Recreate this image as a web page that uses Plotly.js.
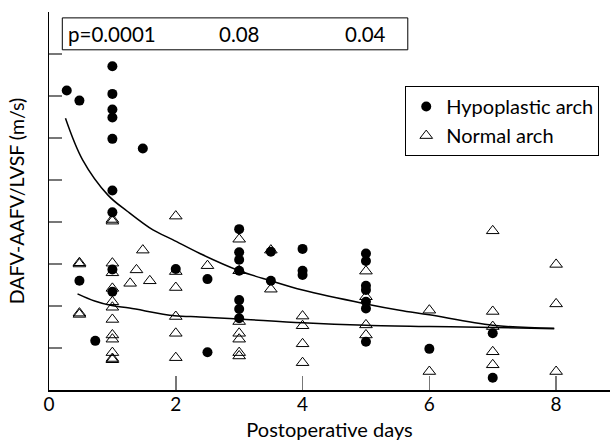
<!DOCTYPE html>
<html>
<head>
<meta charset="utf-8">
<script src="https://cdn.plot.ly/plotly-3.0.1.min.js"></script>
<style>html,body{margin:0;padding:0;background:#fff;}#chart{width:610px;height:443px;}</style>
</head>
<body>
<div id="chart"></div>
<script>
// Hypoplastic arch (filled circles)
const hypoX = [0.28, 0.48, 0.48, 0.73,
  1, 1, 1, 1, 1, 1, 1, 1, 1,
  1.48, 2, 2.5, 2.5,
  3, 3, 3, 3, 3, 3, 3,
  3.5, 3.5, 4, 4, 4,
  5, 5, 5, 5, 5, 5, 5,
  6, 7, 7];
const hypoY = [7.13, 6.89, 2.60, 1.17,
  7.71, 7.05, 6.68, 6.49, 5.98, 4.75, 4.23, 2.87, 2.34,
  5.75, 2.88, 2.64, 0.90,
  3.83, 3.28, 3.10, 2.84, 2.14, 1.93, 1.71,
  3.29, 2.60, 3.36, 2.84, 2.74,
  3.25, 3.07, 2.48, 2.38, 2.10, 1.94, 1.15,
  0.98, 1.35, 0.29];

// Normal arch (open triangles)
const normX = [0.48, 0.48, 0.48, 0.48,
  1, 1, 1, 1, 1, 1, 1, 1, 1, 1, 1, 1, 1,
  1.28, 1.38, 1.48, 1.59,
  2, 2, 2, 2, 2, 2, 2.5,
  3, 3, 3, 3, 3, 3, 3,
  3.5, 3.5, 4, 4, 4, 4,
  5, 5, 5, 5, 6, 6,
  7, 7, 7, 7, 7, 8, 8, 8];
const normY = [3.03, 3.00, 1.83, 1.80,
  4.06, 4.02, 3.02, 2.79, 2.42, 2.10, 1.97, 1.68, 1.31, 1.21, 0.89, 0.75, 0.72,
  2.54, 2.86, 3.33, 2.60,
  4.14, 2.82, 2.44, 1.75, 1.35, 0.77, 2.96,
  3.59, 2.84, 1.63, 1.35, 1.21, 0.89, 0.81,
  3.33, 2.40, 1.76, 1.53, 1.10, 0.65,
  2.83, 2.22, 1.55, 1.31, 1.90, 0.44,
  3.79, 1.87, 1.51, 0.91, 0.60, 2.99, 2.05, 0.44];

// Fitted curves
const fitHypoX = [0.26, 0.53, 0.93, 1.24, 1.64, 1.95, 2.38, 3.0, 3.5, 4.0, 5.0, 5.53, 6.0, 7.0, 7.97];
const fitHypoY = [6.47, 5.48, 4.64, 4.25, 3.81, 3.58, 3.25, 2.84, 2.60, 2.38, 2.05, 1.90, 1.79, 1.54, 1.47];
const fitNormX = [0.45, 0.72, 0.99, 1.27, 1.98, 2.38, 3.0, 4.0, 5.0, 6.0, 7.0, 7.97];
const fitNormY = [2.29, 2.12, 2.01, 1.95, 1.77, 1.74, 1.69, 1.60, 1.54, 1.51, 1.49, 1.46];

// p values shown above days
const pDays = [1, 3, 5];
const pLabels = ['p=0.0001', '0.08', '0.04'];

const xTicks = [0, 2, 4, 6, 8];

const FONT = 'Lato, "Liberation Sans", sans-serif';

const traces = [
  {x: fitHypoX, y: fitHypoY, mode: 'lines', line: {color: '#000', width: 1.5, shape: 'spline'}, showlegend: false, hoverinfo: 'skip'},
  {x: fitNormX, y: fitNormY, mode: 'lines', line: {color: '#000', width: 1.5, shape: 'spline'}, showlegend: false, hoverinfo: 'skip'},
  {x: hypoX, y: hypoY, mode: 'markers', name: 'Hypoplastic arch',
   marker: {symbol: 'circle', size: 10, color: '#000'}},
  {x: normX, y: normY, mode: 'markers', name: 'Normal arch',
   marker: {symbol: 'triangle-up-open', size: 11, color: '#000', line: {width: 1, color: '#000'}}}
];

const layout = {
  width: 610, height: 443,
  margin: {l: 49, r: 0, t: 12, b: 53},
  paper_bgcolor: '#fff', plot_bgcolor: '#fff',
  font: {family: FONT, color: '#000', size: 18},
  xaxis: {
    range: [0, 8.85], tickvals: xTicks, ticktext: xTicks.map(String),
    ticks: 'inside', ticklen: 14, tickwidth: 1.5, tickcolor: '#777',
    showline: true, linecolor: '#000', linewidth: 1.5,
    showgrid: false, zeroline: false,
    tickfont: {size: 19, family: FONT}, ticklabelstandoff: -3,
    title: {text: 'Postoperative days', font: {size: 20, family: FONT}, standoff: 8}
  },
  yaxis: {
    range: [0, 9], dtick: 1, tick0: 0,
    ticks: 'inside', ticklen: 13, tickwidth: 1.5, tickcolor: '#777',
    showticklabels: false,
    showline: true, linecolor: '#000', linewidth: 1.5,
    showgrid: false, zeroline: false,
    title: {text: 'DAFV-AAFV/LVSF (m/s)', font: {size: 19.5, family: FONT}, standoff: 17}
  },
  legend: {
    x: 0.635, y: 0.804, xanchor: 'left', yanchor: 'top',
    bordercolor: '#000', borderwidth: 1, bgcolor: '#fff',
    font: {size: 20, family: FONT}
  },
  shapes: [{type: 'rect', xref: 'x', yref: 'y', x0: 0.21, x1: 5.66, y0: 8.10, y1: 8.86,
            line: {color: '#000', width: 1}, fillcolor: 'rgba(0,0,0,0)'}],
  annotations: pDays.map((d, i) => ({
    x: d, y: 8.48, xref: 'x', yref: 'y', text: pLabels[i], showarrow: false,
    xanchor: 'center', yanchor: 'middle', font: {size: 20.5, family: FONT}
  }))
};

Plotly.newPlot('chart', traces, layout, {displayModeBar: false, staticPlot: true});
</script>
</body>
</html>
